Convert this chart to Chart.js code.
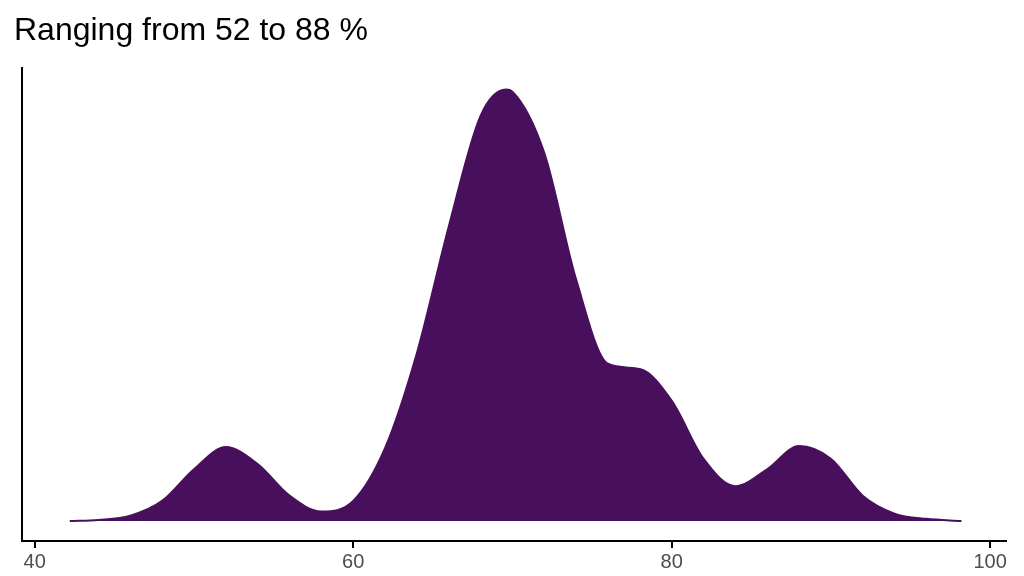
<!DOCTYPE html>
<html>
<head>
<meta charset="utf-8">
<script src="https://cdn.jsdelivr.net/npm/chart.js@4"></script>
<style>
  body { margin: 0; background: #fff; }
  #wrap { width: 1024px; height: 576px; }
</style>
</head>
<body>
<div id="wrap"><canvas id="densityChart" width="1024" height="576"></canvas></div>
<script>
// --- Data (density heights) ---
const xValues = [42.2, 44, 46, 48, 50, 52, 54, 56, 58, 60, 62, 64, 66, 68, 69.6, 70, 72, 74, 76, 78, 80, 82, 84, 86, 88, 90, 92, 94, 96, 98.2];
const density = [0, 1, 5, 19, 49, 70, 54, 24, 9, 19, 69, 159, 279, 384, 409, 407, 349, 229, 149, 144, 114, 59, 33, 49, 71, 59, 24, 7, 2, 0];
const xTicks = [40, 60, 80, 100];

const points = xValues.map((x, i) => ({ x: x, y: density[i] }));
const fontFamily = '"Liberation Sans", sans-serif';

new Chart(document.getElementById('densityChart'), {
    type: 'line',
    data: {
        datasets: [{
            data: points,
            borderColor: '#48105c',
            backgroundColor: '#48105c',
            borderWidth: 2,
            pointRadius: 0,
            fill: 'origin',
            cubicInterpolationMode: 'monotone'
        }]
    },
    options: {
        responsive: false,
        animation: false,
        devicePixelRatio: 1,
        layout: { padding: { left: 14, right: 18, top: 12, bottom: 0 } },
        plugins: {
            legend: { display: false },
            tooltip: { enabled: false },
            title: {
                display: true,
                text: 'Ranging from 52 to 88 %',
                align: 'start',
                color: '#000',
                font: { family: fontFamily, size: 32, weight: 'normal' },
                padding: { top: 0, bottom: 18 }
            }
        },
        scales: {
            x: {
                type: 'linear',
                min: 39.2,
                max: 101,
                afterBuildTicks: axis => { axis.ticks = xTicks.map(v => ({ value: v })); },
                ticks: { color: '#4d4d4d', font: { family: fontFamily, size: 20 }, padding: 2 },
                grid: { drawOnChartArea: false, tickLength: 7, color: '#000', lineWidth: 2 },
                border: { color: '#000', width: 2 }
            },
            y: {
                min: -19,
                max: 429,
                ticks: { display: false },
                grid: { display: false },
                border: { color: '#000', width: 2 }
            }
        }
    }
});
</script>
</body>
</html>
